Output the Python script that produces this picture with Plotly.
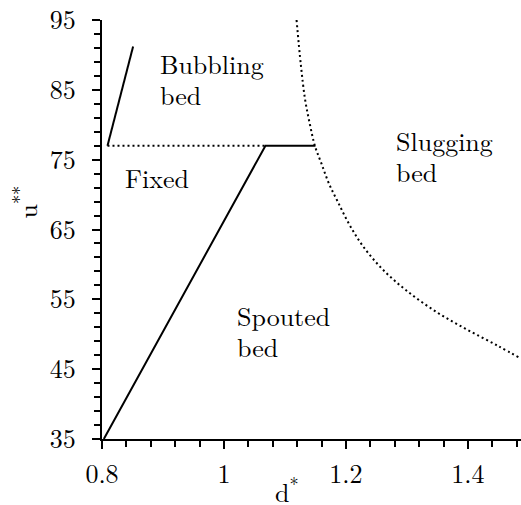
import plotly.graph_objects as go

# Regime boundaries (d*, u**)
spout_x = [0.803, 1.068, 1.15]
spout_y = [35, 77, 77]

bubble_x = [0.809, 0.851]
bubble_y = [77, 91.2]

fixed_x = [0.809, 1.068]
fixed_y = [77, 77]

slug_x = [1.119, 1.126, 1.133, 1.141, 1.149, 1.160, 1.172, 1.187, 1.205, 1.228, 1.26, 1.30, 1.35, 1.40, 1.45, 1.487]
slug_y = [95.0, 88.6, 83.6, 80.0, 77.0, 74.4, 71.6, 68.9, 65.8, 62.6, 59.3, 56.2, 53.1, 50.6, 48.3, 46.5]

x_ticks = [0.8, 1.0, 1.2, 1.4]
x_labels = ["0.8", "1", "1.2", "1.4"]
y_ticks = [35, 45, 55, 65, 75, 85, 95]

# region labels: (text lines, left x, y of each line)
regions = [
    (["Bubbling", "bed"], 0.891, [88.7, 84.4]),
    (["Fixed"], 0.834, [72.4]),
    (["Spouted", "bed"], 1.018, [52.7, 48.3]),
    (["Slugging", "bed"], 1.278, [77.7, 73.3]),
]

FONT = "CMU Serif, Latin Modern Roman, Noto Serif, FreeSerif, Nimbus Roman, DejaVu Sans"

fig = go.Figure()
fig.add_trace(go.Scatter(x=spout_x, y=spout_y, mode="lines",
                         line=dict(color="black", width=2)))
fig.add_trace(go.Scatter(x=bubble_x, y=bubble_y, mode="lines",
                         line=dict(color="black", width=2)))
fig.add_trace(go.Scatter(x=fixed_x, y=fixed_y, mode="lines",
                         line=dict(color="black", width=2, dash="2px,3px")))
fig.add_trace(go.Scatter(x=slug_x, y=slug_y, mode="lines",
                         line=dict(color="black", width=2, dash="2px,3px", shape="spline")))

annotations = []
for lines, x0, ys in regions:
    for t, yy in zip(lines, ys):
        annotations.append(dict(x=x0, y=yy, xref="x", yref="y", text=t,
                                showarrow=False, xanchor="left", yanchor="middle",
                                font=dict(family=FONT, size=26, color="black")))
annotations.append(dict(x=0.4415, y=-0.122, xref="paper", yref="paper",
                        text="d<sup>*</sup>", showarrow=False,
                        xanchor="center", yanchor="middle",
                        font=dict(family=FONT, size=26, color="black")))
annotations.append(dict(x=-0.183, y=0.565, xref="paper", yref="paper",
                        text="u<sup>**</sup>", showarrow=False, textangle=-90,
                        xanchor="center", yanchor="middle",
                        font=dict(family=FONT, size=26, color="black")))

axis_common = dict(showline=True, linewidth=2, linecolor="black", showgrid=False,
                   zeroline=False, ticks="outside", ticklen=8, tickwidth=2,
                   tickcolor="black", tickfont=dict(family=FONT, size=26, color="black"))

fig.update_layout(
    width=521, height=505,
    margin=dict(l=102, r=0, t=20, b=66),
    paper_bgcolor="white", plot_bgcolor="white",
    showlegend=False, hovermode=False,
    font=dict(family=FONT, color="black"),
    annotations=annotations,
    xaxis=dict(range=[0.8, 1.487], tickvals=x_ticks, ticktext=x_labels,
               minor=dict(ticks="outside", ticklen=6, tickwidth=2, tickcolor="black",
                          tick0=0.8, dtick=0.04),
               ticklabelstandoff=3, **axis_common),
    yaxis=dict(range=[35, 95], tickvals=y_ticks,
               minor=dict(ticks="outside", ticklen=6, tickwidth=2, tickcolor="black",
                          tick0=35, dtick=2),
               ticklabelstandoff=11, **axis_common),
)

fig.write_html("out.html", config={"displayModeBar": False})
